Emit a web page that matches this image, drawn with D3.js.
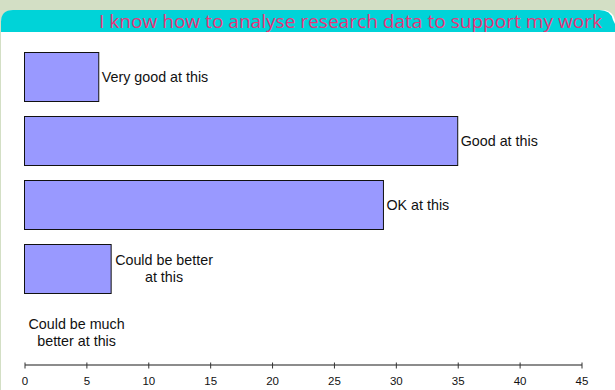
<!DOCTYPE html>
<html>
<head>
<meta charset="utf-8">
<script src="https://cdn.jsdelivr.net/npm/d3@7"></script>
<style>
  html, body { margin: 0; padding: 0; background: #d3dfc5; }
  svg { display: block; }
</style>
</head>
<body>
<svg id="chart" width="615" height="390"></svg>
<script>
const title = "I know how to analyse research data to support my work";
const categories = [
  "Very good at this",
  "Good at this",
  "OK at this",
  "Could be better at this",
  "Could be much better at this"
];
// label lines for each category
const labelLines = [
  ["Very good at this"],
  ["Good at this"],
  ["OK at this"],
  ["Could be better", "at this"],
  ["Could be much", "better at this"]
];
const values = [6, 35, 29, 7, 0];
const tickValues = [0, 5, 10, 15, 20, 25, 30, 35, 40, 45];

const svg = d3.select("#chart");
const W = 615, H = 390;

// panel: white body with a teal rounded header strip
svg.append("rect")
  .attr("x", 1).attr("y", 10).attr("width", W - 1).attr("height", H - 10)
  .attr("rx", 12).attr("fill", "#ffffff");
svg.append("path")
  .attr("d", "M1,32 L1,22 Q1,10 13,10 L599,10 Q611,10 613,20 L615,24 L615,32 Z")
  .attr("fill", "#00d3d8");
svg.append("rect")
  .attr("x", 1).attr("y", 32).attr("width", W - 1).attr("height", H - 32)
  .attr("fill", "#ffffff");

svg.append("text")
  .attr("x", 602).attr("y", 28)
  .attr("text-anchor", "end")
  .attr("font-family", "'Open Sans', 'Noto Sans', sans-serif")
  .attr("font-size", 18)
  .attr("fill", "#e8357a")
  .attr("textLength", 503)
  .attr("lengthAdjust", "spacingAndGlyphs")
  .text(title);

const x = d3.scaleLinear().domain([0, 45]).range([24.5, 581.5]);
const y = d3.scaleBand().domain(categories)
  .range([44.5, 364.5])
  .paddingInner(0.234).paddingOuter(0.117);

// bars
svg.append("g").selectAll("rect")
  .data(categories)
  .join("rect")
  .attr("x", x(0))
  .attr("y", d => Math.round(y(d)) + 0.5)
  .attr("width", (d, i) => x(values[i]) - x(0))
  .attr("height", Math.round(y.bandwidth()))
  .attr("fill", "#9999ff")
  .attr("stroke", "#111")
  .attr("stroke-width", 1)
  .attr("display", (d, i) => values[i] > 0 ? null : "none");

// category labels placed beside each bar end
const lab = svg.append("g")
  .attr("font-family", "'Liberation Sans', Arial, sans-serif")
  .attr("font-size", 14.3)
  .attr("fill", "#111");

categories.forEach((c, i) => {
  const lines = labelLines[i];
  const cy = y(c) + y.bandwidth() / 2;
  const lineH = 17;
  const t = lab.append("text");
  if (lines.length === 1) {
    t.attr("x", x(values[i]) + 3).attr("y", cy + 5).text(lines[0]);
  } else {
    // multi-line labels are centred as a block
    const tmp = lab.append("text").text(lines[0]);
    const w = tmp.node().getComputedTextLength();
    tmp.remove();
    const left = values[i] > 0 ? x(values[i]) + 4 : x(0) + 4;
    const cx = left + w / 2;
    t.attr("text-anchor", "middle");
    lines.forEach((ln, k) => {
      t.append("tspan")
        .attr("x", cx)
        .attr("y", cy + 5 + (k - (lines.length - 1) / 2) * lineH)
        .text(ln);
    });
  }
});

// x axis
const axis = d3.axisBottom(x).tickValues(tickValues).tickSize(4).tickSizeOuter(0);
const ag = svg.append("g")
  .attr("transform", "translate(0,364.5)")
  .call(axis);
ag.select(".domain").attr("stroke", "#666").attr("stroke-width", 1.5);
ag.selectAll(".tick line").attr("stroke", "#333").attr("y1", -2);
ag.selectAll(".tick text")
  .attr("font-family", "'Liberation Sans', Arial, sans-serif")
  .attr("font-size", 11.5)
  .attr("fill", "#111")
  .attr("dy", "1.2em");
</script>
</body>
</html>
